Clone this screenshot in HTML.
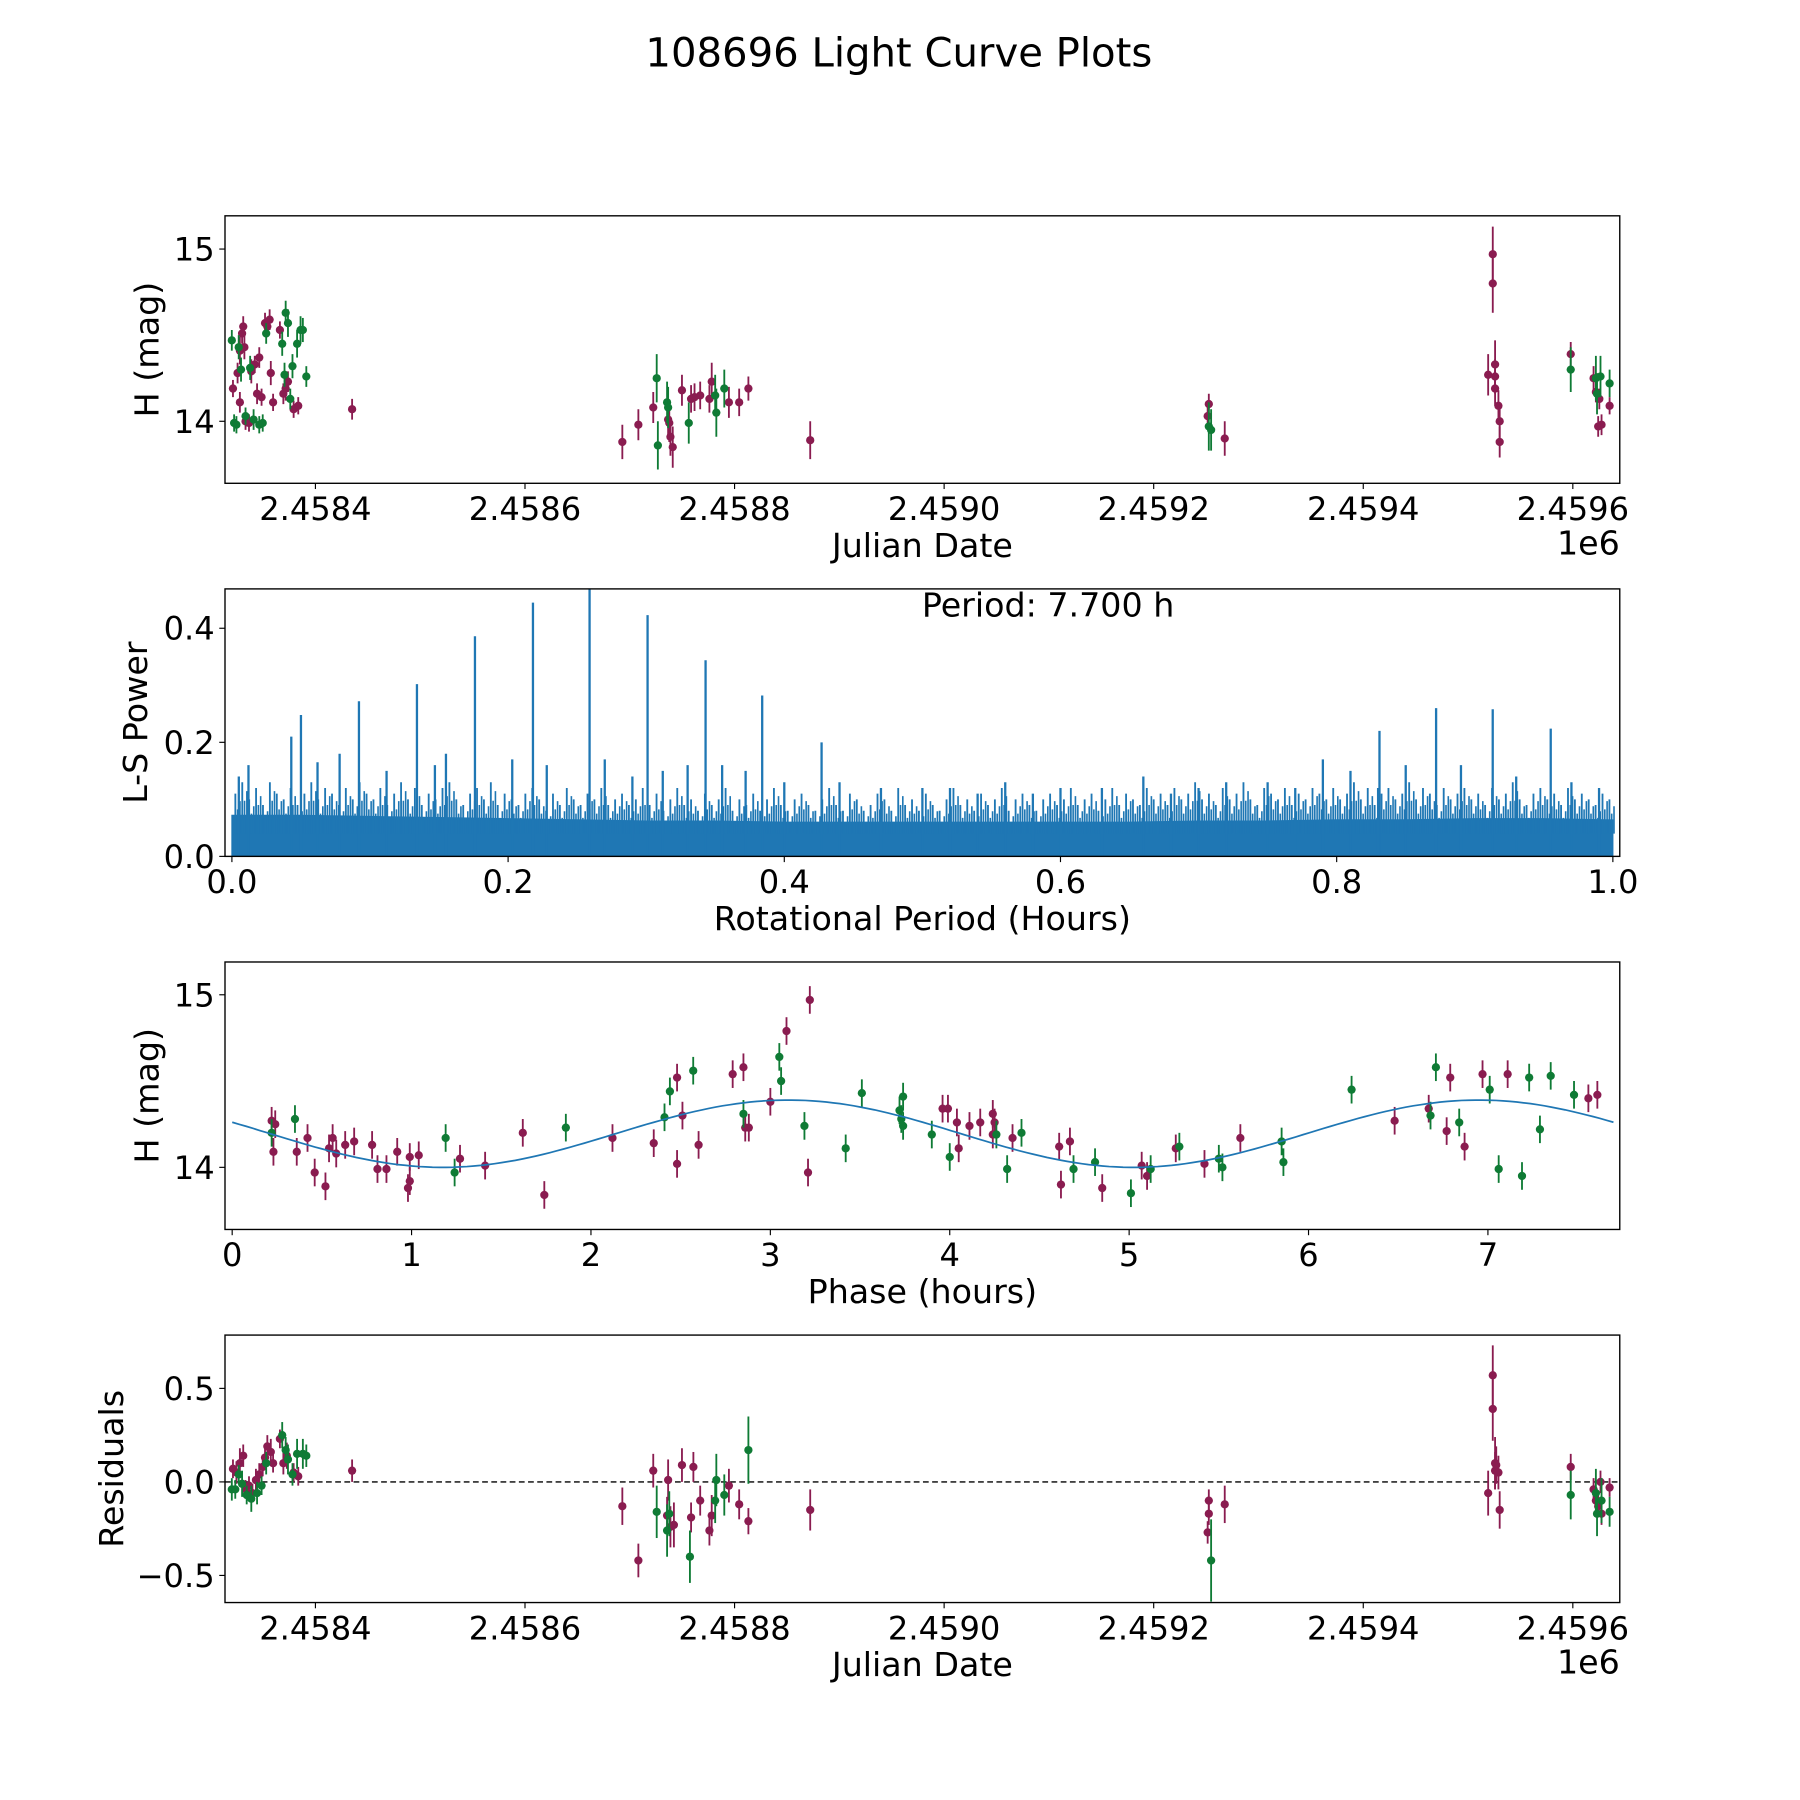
<!DOCTYPE html>
<html><head><meta charset="utf-8"><title>108696 Light Curve Plots</title>
<style>html,body{margin:0;padding:0;background:#fff}svg{display:block;font-family:"DejaVu Sans","Liberation Sans",sans-serif}</style>
</head><body>
<svg id="fig" width="1800" height="1800" viewBox="0 0 1568 1568" xmlns="http://www.w3.org/2000/svg">
<rect width="1568" height="1568" fill="#fff"/>
<text x="783" y="58" font-size="35" text-anchor="middle">108696 Light Curve Plots</text>
</svg>
<script>
// ---- Panel 1 data: Julian Date vs H mag ----
const p1MagJD = [2458321.3,2458325.7,2458327.9,2458330.0,2458331.1,2458332.2,2458334.4,2458336.6,2458338.8,2458342.1,2458344.3,2458346.4,2458348.6,2458351.9,2458354.1,2458356.3,2458357.4,2458359.6,2458366.1,2458369.4,2458371.6,2458373.8,2458379.2,2458383.6,2458435.0,2458327.9,2458333.3,
2458692.9,2458708.2,2458722.4,2458736.6,2458737.7,2458738.8,2458741.0,2458749.8,2458758.5,2458761.8,2458767.2,2458776.0,2458778.2,2458794.6,2458804.4,2458813.2,2458872.2,
2459251.5,2459252.6,2459267.8,
2459519.2,2459523.6,2459523.6,2459525.8,2459525.8,2459525.8,2459529.0,2459530.2,2459530.2,2459598.0,2459619.8,2459622.0,2459624.2,2459627.4,2459635.1,2459625.3];
const p1MagH = [14.19,14.28,14.41,14.51,14.55,14.43,14.01,13.99,14.29,14.33,14.16,14.37,14.14,14.57,14.55,14.59,14.28,14.11,14.53,14.16,14.19,14.23,14.07,14.09,14.07,14.11,14.00,
13.88,13.98,14.08,14.01,13.99,13.91,13.85,14.18,14.13,14.14,14.15,14.13,14.23,14.11,14.11,14.19,13.89,
14.03,14.10,13.90,
14.27,14.97,14.80,14.33,14.26,14.19,14.09,14.00,13.88,14.39,14.25,14.17,13.97,13.98,14.09,14.13];
const p1MagErr = [0.05,0.06,0.08,0.06,0.06,0.07,0.04,0.05,0.07,0.05,0.06,0.06,0.05,0.06,0.05,0.06,0.07,0.05,0.05,0.06,0.07,0.06,0.05,0.05,0.06,0.06,0.05,
0.10,0.09,0.09,0.10,0.11,0.11,0.12,0.09,0.08,0.08,0.08,0.08,0.11,0.09,0.08,0.07,0.11,
0.06,0.06,0.10,
0.12,0.16,0.17,0.14,0.10,0.10,0.09,0.10,0.09,0.07,0.07,0.06,0.06,0.06,0.05,0.06];
const p1GrnJD = [2458320.2,2458322.4,2458324.6,2458326.8,2458329.0,2458333.3,2458337.7,2458341.0,2458346.4,2458349.7,2458353.0,2458368.3,2458370.5,2458371.6,2458373.8,2458376.0,2458378.1,2458382.5,2458385.8,2458388.0,2458391.3,
2458725.7,2458726.8,2458735.6,2458736.6,2458756.3,2458781.5,2458782.6,2458790.2,
2459252.6,2459254.8,
2459598.0,2459622.0,2459623.1,2459626.4,2459635.1];
const p1GrnH = [14.47,13.99,13.98,14.43,14.30,14.03,14.31,14.01,13.98,13.99,14.51,14.45,14.27,14.63,14.57,14.13,14.32,14.45,14.53,14.53,14.26,
14.25,13.86,14.11,14.08,13.99,14.15,14.05,14.19,
13.97,13.95,
14.30,14.25,14.16,14.26,14.22];
const p1GrnErr = [0.06,0.05,0.05,0.07,0.07,0.05,0.07,0.06,0.05,0.05,0.06,0.07,0.07,0.07,0.08,0.06,0.07,0.08,0.08,0.07,0.06,
0.14,0.14,0.12,0.12,0.12,0.12,0.14,0.11,
0.14,0.12,
0.13,0.13,0.12,0.12,0.08];

// ---- Panel 2 data: Lomb-Scargle periodogram ----
const lsPeakPeriod = [0.259,0.218,0.301,0.176,0.343,0.134,0.384,0.092,0.050,0.043,0.427,0.831,0.872,0.913,0.955,0.078,0.012,0.005,0.062,0.112,0.147,0.155,0.203,0.228,0.270,0.290,0.312,0.330,0.355,0.372,0.400,0.440,0.470,0.500,0.520,0.560,0.600,0.630,0.660,0.700,0.750,0.790,0.810,0.850,0.890,0.930,0.970,0.990,0.720,0.580,0.540,0.680,0.770,0.830];
const lsPeakPower = [0.470,0.445,0.423,0.386,0.344,0.302,0.282,0.272,0.248,0.210,0.200,0.220,0.260,0.258,0.224,0.180,0.160,0.140,0.165,0.150,0.160,0.180,0.170,0.160,0.170,0.140,0.150,0.160,0.160,0.150,0.130,0.130,0.120,0.120,0.120,0.130,0.120,0.120,0.140,0.120,0.130,0.170,0.150,0.160,0.160,0.140,0.130,0.120,0.130,0.110,0.110,0.110,0.120,0.120];
const lsFloorPower = [0.072,0.072,0.070,0.068,0.066,0.064,0.062,0.062,0.060,0.060,0.060,0.060,0.060,0.060,0.062,0.062,0.064,0.064,0.066,0.066,0.064];
const lsMinorStep = 0.005;
const lsMinorPower = [0.11,0.13,0.10,0.12,0.09,0.13,0.11,0.10,0.12,0.09,0.11,0.13,0.10,0.12,0.11,0.09,0.12,0.10,0.13,0.11,
0.10,0.12,0.09,0.11,0.13,0.10,0.12,0.09,0.11,0.10,0.12,0.13,0.10,0.09,0.11,0.12,0.10,0.13,0.09,0.11,
0.10,0.09,0.11,0.12,0.10,0.08,0.11,0.09,0.12,0.10,0.09,0.11,0.10,0.12,0.09,0.10,0.11,0.09,0.10,0.12,
0.09,0.11,0.08,0.10,0.12,0.09,0.10,0.08,0.11,0.09,0.10,0.12,0.08,0.10,0.09,0.11,0.08,0.10,0.12,0.09,
0.08,0.10,0.11,0.09,0.08,0.10,0.12,0.09,0.08,0.11,0.10,0.08,0.09,0.11,0.10,0.08,0.12,0.09,0.10,0.08,
0.11,0.09,0.08,0.10,0.12,0.09,0.10,0.08,0.11,0.09,0.10,0.12,0.08,0.10,0.11,0.09,0.08,0.10,0.11,0.09,
0.10,0.12,0.09,0.10,0.11,0.08,0.10,0.12,0.09,0.11,0.10,0.09,0.12,0.10,0.11,0.09,0.12,0.10,0.11,0.13,
0.10,0.11,0.09,0.12,0.10,0.11,0.13,0.10,0.09,0.12,0.11,0.10,0.12,0.09,0.11,0.10,0.12,0.11,0.10,0.12,
0.10,0.11,0.13,0.10,0.12,0.09,0.11,0.12,0.10,0.11,0.13,0.10,0.12,0.11,0.09,0.12,0.10,0.11,0.12,0.10,
0.11,0.09,0.12,0.10,0.11,0.13,0.10,0.09,0.11,0.12,0.10,0.11,0.09,0.12,0.10,0.11,0.10,0.09,0.11,0.10];

// ---- Panel 3 data: phase-folded ----
const p3MagPhase = [0.22,0.24,0.23,0.36,0.42,0.46,0.52,0.54,0.56,0.58,0.63,0.68,0.78,0.81,0.86,0.92,0.98,0.99,0.99,1.04,1.27,1.41,1.62,1.74,2.12,2.35,2.48,2.48,2.51,2.60,2.79,2.85,2.86,2.88,3.00,3.09,3.21,3.22,3.96,3.99,4.04,4.05,4.11,4.17,4.24,4.24,4.25,4.35,4.61,4.62,4.67,4.85,5.07,5.10,5.26,5.42,5.62,6.48,6.67,6.77,6.79,6.87,6.97,7.11,7.56,7.61];
const p3MagH = [14.27,14.25,14.09,14.09,14.17,13.97,13.89,14.11,14.17,14.08,14.13,14.15,14.13,13.99,13.99,14.09,13.88,13.92,14.06,14.07,14.05,14.01,14.20,13.84,14.17,14.14,14.02,14.52,14.30,14.13,14.54,14.58,14.23,14.23,14.38,14.79,13.97,14.97,14.34,14.34,14.26,14.11,14.24,14.26,14.31,14.19,14.26,14.17,14.12,13.90,14.15,13.88,14.01,13.95,14.11,14.02,14.17,14.27,14.34,14.21,14.52,14.12,14.54,14.54,14.40,14.42];
const p3GrnPhase = [0.22,0.35,1.19,1.24,1.86,2.41,2.44,2.57,2.85,3.05,3.06,3.19,3.42,3.51,3.72,3.73,3.74,3.74,3.90,4.00,4.26,4.32,4.40,4.69,4.81,5.01,5.12,5.28,5.50,5.52,5.85,5.86,6.24,6.68,6.71,6.84,7.01,7.06,7.19,7.23,7.29,7.35,7.48];
const p3GrnH = [14.20,14.28,14.17,13.97,14.23,14.29,14.44,14.56,14.31,14.64,14.50,14.24,14.11,14.43,14.33,14.28,14.24,14.41,14.19,14.06,14.19,13.99,14.20,13.99,14.03,13.85,13.99,14.12,14.05,14.00,14.15,14.03,14.45,14.30,14.58,14.26,14.45,13.99,13.95,14.52,14.22,14.53,14.42];
const p3ErrDefault = 0.08;
const fitMean = 14.195, fitAmp = 0.195, fitPeak = 3.1, fitPeriod = 3.85;

// ---- Panel 4 data: residuals ----
const p4MagJD = [2458321.3,2458324.6,2458327.9,2458331.1,2458333.3,2458336.6,2458339.9,2458343.2,2458346.4,2458349.7,2458351.9,2458354.1,2458357.4,2458359.6,2458366.1,2458369.4,2458372.7,2458379.2,2458383.6,2458435.0,
2458692.9,2458708.2,2458722.4,2458735.6,2458736.6,2458738.8,2458742.1,2458749.8,2458758.5,2458760.7,2458767.2,2458776.0,2458778.2,2458794.6,2458804.4,2458813.2,2458872.2,
2459251.5,2459252.6,2459252.6,2459267.8,
2459519.2,2459523.6,2459523.6,2459525.8,2459525.8,2459526.9,2459529.0,2459530.2,2459598.0,2459622.0,2459624.2,2459627.4,2459626.4,2459635.1,2459619.8];
const p4MagRes = [0.07,0.05,0.10,0.14,-0.04,-0.02,-0.06,0.01,0.04,0.08,0.13,0.19,0.16,0.10,0.23,0.10,0.14,0.05,0.03,0.06,
-0.13,-0.42,0.06,-0.18,0.01,-0.24,-0.23,0.09,-0.19,0.08,-0.10,-0.26,-0.18,-0.02,-0.12,-0.21,-0.15,
-0.27,-0.10,-0.17,-0.12,
-0.06,0.57,0.39,0.10,0.06,0.09,0.05,-0.15,0.08,-0.10,-0.13,-0.17,0.00,-0.03,-0.04];
const p4MagErr = [0.05,0.06,0.08,0.06,0.05,0.05,0.05,0.06,0.06,0.05,0.06,0.06,0.07,0.05,0.05,0.06,0.07,0.05,0.05,0.06,
0.10,0.09,0.09,0.10,0.11,0.11,0.12,0.09,0.08,0.08,0.08,0.08,0.11,0.09,0.08,0.07,0.11,
0.06,0.06,0.06,0.10,
0.12,0.16,0.17,0.14,0.10,0.10,0.09,0.10,0.07,0.07,0.06,0.06,0.06,0.05,0.06];
const p4GrnJD = [2458320.2,2458323.5,2458326.8,2458330.0,2458334.4,2458338.8,2458344.3,2458348.6,2458353.0,2458368.3,2458371.6,2458373.8,2458378.1,2458382.5,2458388.0,2458391.3,
2458725.7,2458735.6,2458737.7,2458757.4,2458781.5,2458782.6,2458790.2,2458813.2,
2459254.8,
2459598.0,2459622.0,2459623.1,2459627.4,2459635.1];
const p4GrnRes = [-0.04,-0.04,0.04,-0.01,-0.07,-0.09,-0.06,-0.02,0.10,0.25,0.17,0.12,0.04,0.15,0.15,0.14,
-0.16,-0.26,-0.17,-0.40,-0.10,0.01,-0.07,0.17,
-0.42,
-0.07,-0.06,-0.17,-0.10,-0.16];
const p4GrnErr = [0.06,0.05,0.05,0.07,0.05,0.07,0.06,0.05,0.06,0.07,0.07,0.08,0.06,0.08,0.08,0.06,
0.14,0.14,0.12,0.14,0.12,0.14,0.11,0.18,
0.22,
0.13,0.13,0.12,0.12,0.08];

const MAG='#8a1c50', GRN='#0f7b35', BLUE='#1f77b4';
const NS='http://www.w3.org/2000/svg';
const svg=document.getElementById('fig');
function el(tag,attrs,parent){const e=document.createElementNS(NS,tag);for(const k in attrs)e.setAttribute(k,attrs[k]);(parent||svg).appendChild(e);return e;}
const TICKFS=28, LABFS=29;

function makeAxes(name,top,xmin,xmax,ymin,ymax){
  const L=196,R=1411,H=233,B=top+H;
  const g=el('g',{});
  
  
  return {g,L,R,top,B,x:v=>L+(v-xmin)/(xmax-xmin)*(R-L),y:v=>B-(v-ymin)/(ymax-ymin)*H};
}
function frame(ax){
  const r=el('rect',{x:ax.L,y:ax.top,width:ax.R-ax.L,height:ax.B-ax.top,fill:'none',stroke:'#000','stroke-width':1.2},ax.g);
  
  
}
function xTicks(ax,vals,labels){
  const g=el('g',{},ax.g);
  
  
  vals.forEach((v,i)=>{const X=ax.x(v);
    el('line',{x1:X,x2:X,y1:ax.B,y2:ax.B+5,stroke:'#000','stroke-width':1},g);
    const t=el('text',{x:X,y:ax.B+32,'font-size':TICKFS,'text-anchor':'middle'},g);t.textContent=labels[i];});
}
function yTicks(ax,vals,labels){
  const g=el('g',{},ax.g);
  
  
  vals.forEach((v,i)=>{const Y=ax.y(v);
    el('line',{x1:ax.L-5,x2:ax.L,y1:Y,y2:Y,stroke:'#000','stroke-width':1},g);
    const t=el('text',{x:ax.L-9,y:Y+10,'font-size':TICKFS,'text-anchor':'end'},g);t.textContent=labels[i];});
}
function labels(ax,xl,yl,yx){
  const a=el('text',{x:(ax.L+ax.R)/2,y:ax.B+64,'font-size':LABFS,'text-anchor':'middle'},ax.g);a.textContent=xl;
  
  
  const b=el('text',{x:yx,y:(ax.top+ax.B)/2,'font-size':LABFS,'text-anchor':'middle',transform:`rotate(-90 ${yx} ${(ax.top+ax.B)/2})`},ax.g);b.textContent=yl;
  
  
}
function errPoints(ax,xs,ys,errs,color,name){
  const g=el('g',{'clip-path':`url(#clip-${ax.top})`},ax.g);
  
  
  xs.forEach((xv,i)=>{const e=Array.isArray(errs)?errs[i]:errs;const X=ax.x(xv);
    el('line',{x1:X,x2:X,y1:ax.y(ys[i]-e),y2:ax.y(ys[i]+e),stroke:color,'stroke-width':1.6},g);
    const c=el('circle',{cx:X,cy:ax.y(ys[i]),r:3.6,fill:color},g);
    
    
  });
}
function clip(ax){const d=el('defs',{},svg);const cp=el('clipPath',{id:'clip-'+ax.top},d);el('rect',{x:ax.L,y:ax.top,width:ax.R-ax.L,height:ax.B-ax.top},cp);}

const jdMin=2458313.7,jdMax=2459644.8;
const jdTickVals=[2458400,2458600,2458800,2459000,2459200,2459400,2459600];
const jdTickLbl=['2.4584','2.4586','2.4588','2.4590','2.4592','2.4594','2.4596'];

// Panel 1
{const ax=makeAxes('light-curve-panel',188,jdMin,jdMax,13.64,15.193);clip(ax);
 errPoints(ax,p1MagJD,p1MagH,p1MagErr,MAG,'series-filter-1');
 errPoints(ax,p1GrnJD,p1GrnH,p1GrnErr,GRN,'series-filter-2');
 frame(ax);xTicks(ax,jdTickVals,jdTickLbl);yTicks(ax,[14,15],['14','15']);
 labels(ax,'Julian Date','H (mag)',138);
 const o=el('text',{x:1411,y:ax.B+62,'font-size':LABFS,'text-anchor':'end'},ax.g);o.textContent='1e6';
 
 }

// Panel 2
{const ax=makeAxes('periodogram-panel',513,-0.005,1.005,0,0.469);clip(ax);
 const g=el('g',{'clip-path':`url(#clip-513)`},ax.g);
 
 
 let pts=[];lsFloorPower.forEach((v,i)=>pts.push(ax.x(i*0.05)+','+ax.y(v)));
 el('polygon',{points:ax.x(0)+','+ax.y(0)+' '+pts.join(' ')+' '+ax.x(1)+','+ax.y(0),fill:BLUE,stroke:BLUE},g);
 lsMinorPower.forEach((v,i)=>{const p=i*lsMinorStep+0.0025;const X=ax.x(p);
   el('line',{x1:X,x2:X,y1:ax.y(0.04),y2:ax.y(v),stroke:BLUE,'stroke-width':1.6},g);
   el('line',{x1:X+2,x2:X+2,y1:ax.y(0.04),y2:ax.y(v*0.75),stroke:BLUE,'stroke-width':1.4},g);
   el('line',{x1:X+4,x2:X+4,y1:ax.y(0.04),y2:ax.y(v*0.88),stroke:BLUE,'stroke-width':1.4},g);});
 lsPeakPeriod.forEach((p,i)=>{const X=ax.x(p);
   el('line',{x1:X,x2:X,y1:ax.y(0),y2:ax.y(lsPeakPower[i]),stroke:BLUE,'stroke-width':2},g);});
 frame(ax);
 xTicks(ax,[0,0.2,0.4,0.6,0.8,1.0],['0.0','0.2','0.4','0.6','0.8','1.0']);
 yTicks(ax,[0,0.2,0.4],['0.0','0.2','0.4']);
 labels(ax,'Rotational Period (Hours)','L-S Power',128);
 const t=el('text',{x:913,y:537,'font-size':LABFS,'text-anchor':'middle'},ax.g);t.textContent='Period: 7.700 h';
 
 }

// Panel 3
{const ax=makeAxes('phase-folded-panel',838,-0.04,7.735,13.64,15.19);clip(ax);
 errPoints(ax,p3MagPhase,p3MagH,p3ErrDefault,MAG,'phase-series-filter-1');
 errPoints(ax,p3GrnPhase,p3GrnH,p3ErrDefault,GRN,'phase-series-filter-2');
 let d='';for(let k=0;k<=200;k++){const ph=k/200*7.7;const m=fitMean+fitAmp*Math.cos(2*Math.PI*(ph-fitPeak)/fitPeriod);d+=(k?'L':'M')+ax.x(ph).toFixed(1)+' '+ax.y(m).toFixed(1);}
 const fl=el('path',{d,fill:'none',stroke:BLUE,'stroke-width':1.5},ax.g);
 
 
 frame(ax);xTicks(ax,[0,1,2,3,4,5,6,7],['0','1','2','3','4','5','6','7']);
 yTicks(ax,[14,15],['14','15']);labels(ax,'Phase (hours)','H (mag)',138);}

// Panel 4
{const ax=makeAxes('residuals-panel',1163,jdMin,jdMax,-0.645,0.785);clip(ax);
 const z=el('line',{x1:ax.L,x2:ax.R,y1:ax.y(0),y2:ax.y(0),stroke:'#000','stroke-width':1.2,'stroke-dasharray':'5,3'},ax.g);
 
 
 errPoints(ax,p4MagJD,p4MagRes,p4MagErr,MAG,'residual-series-filter-1');
 errPoints(ax,p4GrnJD,p4GrnRes,p4GrnErr,GRN,'residual-series-filter-2');
 frame(ax);xTicks(ax,jdTickVals,jdTickLbl);
 yTicks(ax,[-0.5,0,0.5],['\u22120.5','0.0','0.5']);
 labels(ax,'Julian Date','Residuals',107);
 const o=el('text',{x:1411,y:ax.B+62,'font-size':LABFS,'text-anchor':'end'},ax.g);o.textContent='1e6';
 
 }
</script>
</body></html>
